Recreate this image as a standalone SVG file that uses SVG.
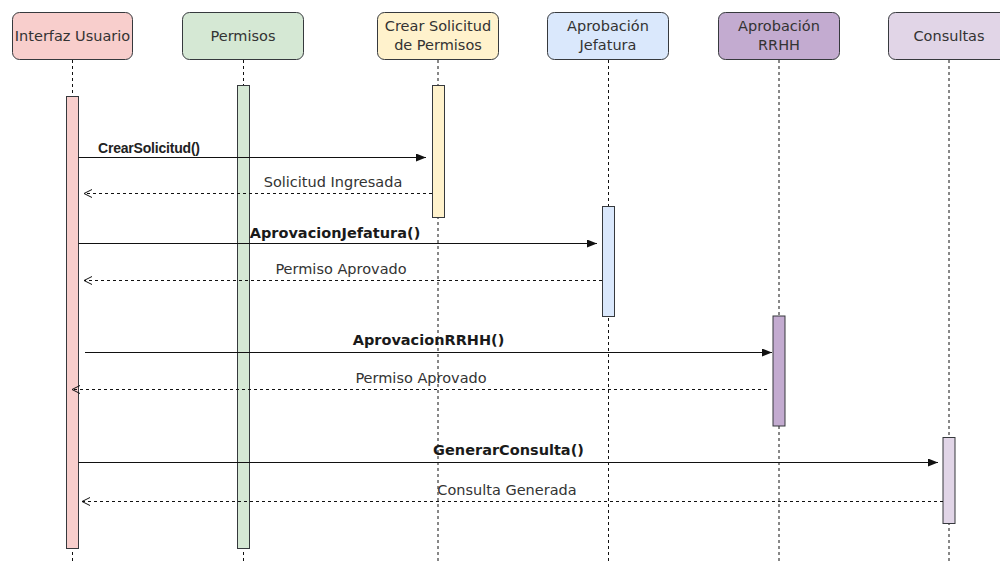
<svg xmlns="http://www.w3.org/2000/svg" width="1000" height="562" viewBox="0 0 1000 562">
<defs>
<style>
.box{stroke:#36393d;stroke-width:1}
.hdr{font-family:"DejaVu Sans",sans-serif;font-size:14.5px;fill:#333;text-anchor:middle}
.life{stroke:#111;stroke-width:1;stroke-dasharray:3 3;fill:none}
.bar{stroke:#36393d;stroke-width:1}
.call{stroke:#111;stroke-width:1;fill:none;marker-end:url(#block)}
.ret{stroke:#111;stroke-width:1;stroke-dasharray:3 3;fill:none;marker-end:url(#open)}
.lbl{font-family:"DejaVu Sans",sans-serif;font-size:14.5px;fill:#333;text-anchor:middle}
.blbl{font-family:"DejaVu Sans",sans-serif;font-size:14.5px;font-weight:bold;fill:#1a1a1a;text-anchor:middle}
</style>
<marker id="block" viewBox="0 0 10 8" refX="10" refY="4" markerWidth="10" markerHeight="8" markerUnits="userSpaceOnUse" orient="auto">
<path d="M0,0 L10,4 L0,8 Z" fill="#111"/>
</marker>
<marker id="open" viewBox="0 0 10 10" refX="9" refY="5" markerWidth="10" markerHeight="10" markerUnits="userSpaceOnUse" orient="auto">
<path d="M1,1 L9,5 L1,9" fill="none" stroke="#111" stroke-width="1"/>
</marker>
</defs>
<rect width="1000" height="562" fill="#fff"/>

<g id="lifelines">
<line class="life" x1="72.5" y1="60" x2="72.5" y2="562"/>
<line class="life" x1="243.5" y1="60" x2="243.5" y2="562"/>
<line class="life" x1="438" y1="60" x2="438" y2="562"/>
<line class="life" x1="608.5" y1="60" x2="608.5" y2="562"/>
<line class="life" x1="779" y1="60" x2="779" y2="562"/>
<line class="life" x1="949" y1="60" x2="949" y2="562"/>
</g>

<g id="interfaz">
<rect class="box" x="12.5" y="12.5" width="120" height="47" rx="7" fill="#f8cecc"/>
<text class="hdr" x="72.5" y="41">Interfaz Usuario</text>
<rect class="bar" x="66.5" y="96.5" width="12" height="452" fill="#f8cecc"/>
</g>

<g id="permisos">
<rect class="box" x="182.5" y="12.5" width="121" height="47" rx="7" fill="#d5e8d4"/>
<text class="hdr" x="243" y="41">Permisos</text>
<rect class="bar" x="237.5" y="85.5" width="12" height="463" fill="#d5e8d4"/>
</g>

<g id="crear">
<rect class="box" x="377.5" y="12.5" width="121" height="47" rx="7" fill="#fff2cc"/>
<text class="hdr" x="438" y="31">Crear Solicitud</text>
<text class="hdr" x="438" y="50">de Permisos</text>
<rect class="bar" x="432.5" y="85.5" width="12" height="132" fill="#fff2cc"/>
</g>

<g id="jefatura">
<rect class="box" x="547.5" y="12.5" width="121" height="47" rx="7" fill="#dae8fc"/>
<text class="hdr" x="608" y="31">Aprobación</text>
<text class="hdr" x="608" y="50">Jefatura</text>
<rect class="bar" x="602.5" y="206.5" width="12" height="110" fill="#dae8fc"/>
</g>

<g id="rrhh">
<rect class="box" x="718.5" y="12.5" width="121" height="47" rx="7" fill="#c3abd0"/>
<text class="hdr" x="779" y="31">Aprobación</text>
<text class="hdr" x="779" y="50">RRHH</text>
<rect class="bar" x="773" y="316" width="12" height="110" fill="#c3abd0"/>
</g>

<g id="consultas">
<rect class="box" x="888.5" y="12.5" width="121" height="47" rx="7" fill="#e1d5e7"/>
<text class="hdr" x="949" y="41">Consultas</text>
<rect class="bar" x="943" y="437.5" width="12" height="86" fill="#e1d5e7"/>
</g>

<g id="connectors">
<line class="call" x1="78.5" y1="157.5" x2="426" y2="157.5"/>
<text x="98" y="152.5" style="font-family:'Liberation Sans',Arial,sans-serif;font-size:14px;font-weight:bold;fill:#222;letter-spacing:-0.2px">CrearSolicitud()</text>
<line class="ret" x1="432" y1="193.5" x2="84" y2="193.5"/>
<text class="lbl" x="333" y="187">Solicitud Ingresada</text>

<line class="call" x1="78.5" y1="243.5" x2="597" y2="243.5"/>
<text class="blbl" x="335" y="238">AprovacionJefatura()</text>
<line class="ret" x1="602" y1="280.5" x2="84" y2="280.5"/>
<text class="lbl" x="341" y="274">Permiso Aprovado</text>

<line class="call" x1="85" y1="352.5" x2="772" y2="352.5"/>
<text class="blbl" x="428.5" y="345">AprovacionRRHH()</text>
<line class="ret" x1="767" y1="389.5" x2="72" y2="389.5"/>
<text class="lbl" x="421" y="383">Permiso Aprovado</text>

<line class="call" x1="78.5" y1="462.5" x2="938" y2="462.5"/>
<text class="blbl" x="508.5" y="455">GenerarConsulta()</text>
<line class="ret" x1="943" y1="501.5" x2="82" y2="501.5"/>
<text class="lbl" x="507" y="495">Consulta Generada</text>
</g>
</svg>
